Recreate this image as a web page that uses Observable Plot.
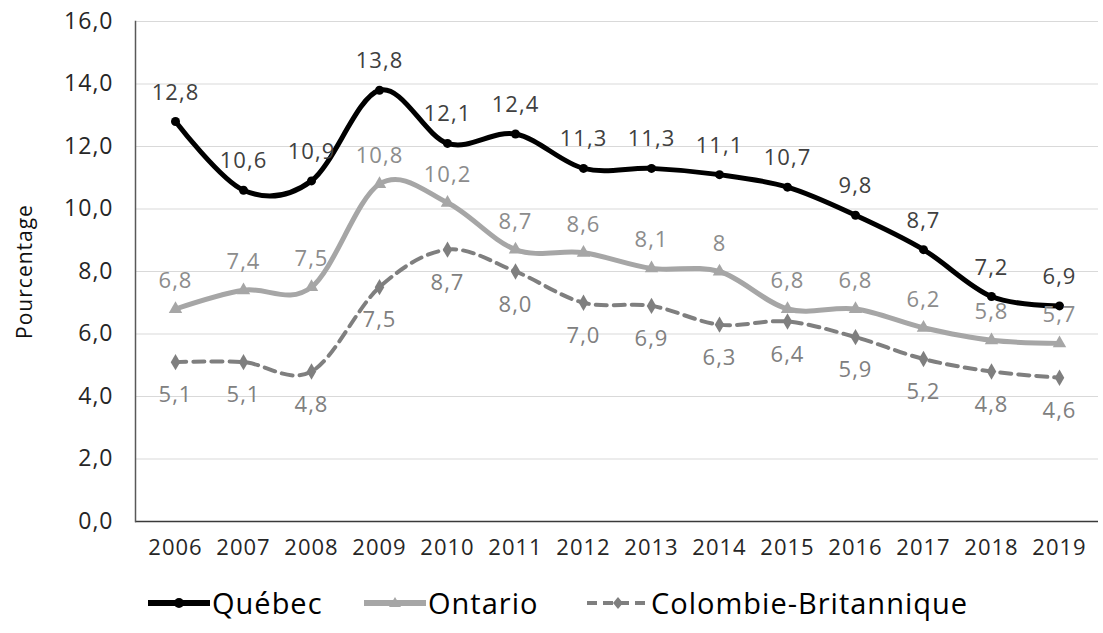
<!DOCTYPE html>
<html><head><meta charset="utf-8">
<script src="https://cdn.jsdelivr.net/npm/d3@7"></script>
<script src="https://cdn.jsdelivr.net/npm/@observablehq/plot@0.6"></script>
<style>
body{margin:0;background:#fff;font-family:"Open Sans",sans-serif;}
svg text{letter-spacing:1px;}
#legend{position:relative;height:63px;}
.li{position:absolute;top:13px;display:flex;align-items:center;font-size:29px;letter-spacing:1px;color:#000;line-height:40px;}
</style></head>
<body><div id="chart"></div><div id="legend"></div>
<script>
const years = ["2006","2007","2008","2009","2010","2011","2012","2013","2014","2015","2016","2017","2018","2019"];
const quebec = [12.8,10.6,10.9,13.8,12.1,12.4,11.3,11.3,11.1,10.7,9.8,8.7,7.2,6.9];
const ontario = [6.8,7.4,7.5,10.8,10.2,8.7,8.6,8.1,8.0,6.8,6.8,6.2,5.8,5.7];
const cb = [5.1,5.1,4.8,7.5,8.7,8.0,7.0,6.9,6.3,6.4,5.9,5.2,4.8,4.6];
const quebecLabels = ["12,8","10,6","10,9","13,8","12,1","12,4","11,3","11,3","11,1","10,7","9,8","8,7","7,2","6,9"];
const ontarioLabels = ["6,8","7,4","7,5","10,8","10,2","8,7","8,6","8,1","8","6,8","6,8","6,2","5,8","5,7"];
const cbLabels = ["5,1","5,1","4,8","7,5","8,7","8,0","7,0","6,9","6,3","6,4","5,9","5,2","4,8","4,6"];
const yTicks = [0,2,4,6,8,10,12,14,16];
const seriesNames = ["Québec","Ontario","Colombie-Britannique"];

const mk = (vals, labs, name) => years.map((y,i)=>({year:y, value:vals[i], label:labs[i], series:name}));
const dQ = mk(quebec, quebecLabels, seriesNames[0]);
const dO = mk(ontario, ontarioLabels, seriesNames[1]);
const dC = mk(cb, cbLabels, seriesNames[2]);
const fmt = v => v.toFixed(1).replace(".", ",");

const chart = Plot.plot({
  width: 1103, height: 570,
  marginLeft: 135, marginRight: 5, marginTop: 21, marginBottom: 49,
  style: {fontFamily: '"Open Sans",sans-serif', background: "#fff"},
  x: {type: "point", domain: years, padding: 0.5, label: null},
  y: {domain: [0,16], label: null},
  marks: [
    Plot.gridY(yTicks, {stroke: "#d9d9d9", strokeOpacity: 1, strokeWidth: 1}),
    Plot.axisY(yTicks, {tickSize: 0, tickPadding: 22, tickFormat: fmt, fontSize: 23, fill: "#262626", label: null}),
    Plot.axisX({tickSize: 0, tickPadding: 18, fontSize: 22, fill: "#262626", label: null}),
    Plot.text(["Pourcentage"], {frameAnchor: "left", textAnchor: "middle", dx: -110, rotate: -90, fontSize: 21, fill: "#111"}),
    // Québec
    Plot.line(dQ, {x: "year", y: "value", stroke: "#000", strokeWidth: 5, curve: "cardinal", tension: 0}),
    Plot.dot(dQ, {x: "year", y: "value", r: 4.5, fill: "#000", symbol: "circle"}),
    // Ontario
    Plot.line(dO, {x: "year", y: "value", stroke: "#a6a6a6", strokeWidth: 5, curve: "cardinal", tension: 0}),
    Plot.dot(dO, {x: "year", y: "value", r: 5, fill: "#a6a6a6", symbol: "triangle"}),
    // Colombie-Britannique
    Plot.line(dC, {x: "year", y: "value", stroke: "#7f7f7f", strokeWidth: 4, strokeDasharray: "11,7", curve: "cardinal", tension: 0}),
    Plot.dot(dC, {x: "year", y: "value", r: 5, fill: "#7f7f7f", symbol: "diamond"}),
    // labels
    Plot.text(dQ, {x: "year", y: "value", text: "label", dy: -29, fontSize: 22, fill: "#404040"}),
    Plot.text(dO, {x: "year", y: "value", text: "label", dy: -28, fontSize: 22, fill: "#8c8c8c"}),
    Plot.text(dC, {x: "year", y: "value", text: "label", dy: 33, fontSize: 22, fill: "#808080"}),
    // axes lines
    Plot.ruleY([0], {stroke: "#3a3a3a", strokeWidth: 1.5}),
    Plot.frame({anchor: "left", stroke: "#595959", strokeWidth: 1.5})
  ]
});
document.getElementById("chart").appendChild(chart);

// legend
const legendItems = [
  {name: seriesNames[0], left: 148, color: "#000", w: 6, dash: null, sym: "circle"},
  {name: seriesNames[1], left: 364, color: "#a6a6a6", w: 6, dash: null, sym: "triangle"},
  {name: seriesNames[2], left: 587, color: "#7f7f7f", w: 4, dash: "10,6", sym: "diamond"}
];
const leg = document.getElementById("legend");
for (const it of legendItems) {
  const div = document.createElement("div");
  div.className = "li";
  div.style.left = it.left + "px";
  let symPath;
  if (it.sym === "circle") symPath = `<circle cx="31" cy="15" r="5" fill="${it.color}"/>`;
  else if (it.sym === "triangle") symPath = `<path d="M31,9 L37,19 L25,19 Z" fill="${it.color}"/>`;
  else symPath = `<path d="M31,9 L36,15 L31,21 L26,15 Z" fill="${it.color}"/>`;
  div.innerHTML = `<svg width="62" height="30"><line x1="0" x2="62" y1="15" y2="15" stroke="${it.color}" stroke-width="${it.w}" ${it.dash ? `stroke-dasharray="${it.dash}"` : ""}/>${symPath}</svg><span style="margin-left:2px">${it.name}</span>`;
  leg.appendChild(div);
}
</script></body></html>
